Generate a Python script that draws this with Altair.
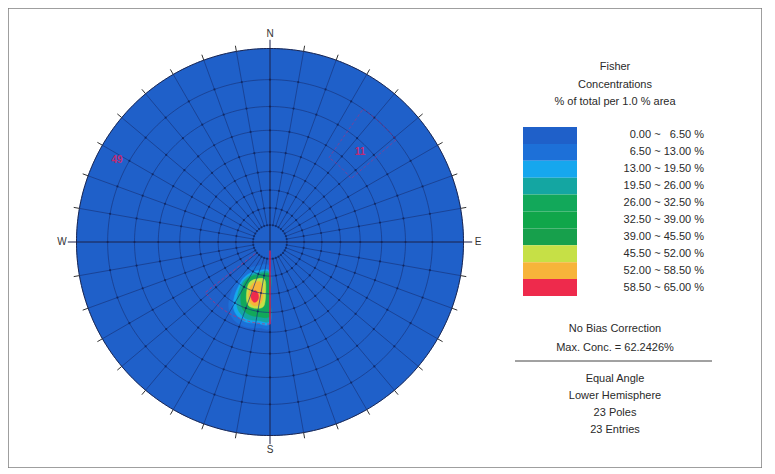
import altair as alt
import numpy as np
import pandas as pd

# ---------------- data ----------------
CONTOUR_EDGES = [0.0, 6.5, 13.0, 19.5, 26.0, 32.5, 39.0, 45.5, 52.0, 58.5, 65.0]
CONTOUR_COLORS = ["#1f60c9", "#1d70d8", "#16a7ee", "#14a6a2", "#12a85a",
                  "#10a64a", "#17a04c", "#c6e046", "#f7b43a", "#ee2a4c"]

# contour outlines (trend, plunge in degrees), one pair of lists per level
C2_TREND = [180, 208.4, 219.4, 221.0, 216.5, 211.5, 204.8, 195.8, 186.6, 180, 180]
C2_PLUNGE = [75.3, 73.9, 68.8, 60.9, 51.7, 45.8, 42.1, 40.9, 41.8, 42.6, 58]
C3_TREND = [180, 202.2, 212.6, 216.3, 215.4, 213.1, 209.6, 204.5, 197.4, 189.3, 180, 180]
C3_PLUNGE = [72.5, 71.8, 68.3, 63.8, 58.4, 52.7, 48.0, 44.9, 43.3, 43.9, 44.4, 58]
C4_TREND = [180, 201.4, 211.7, 214.3, 211.1, 207.3, 202.9, 196.6, 188.7, 180, 180]
C4_PLUNGE = [71.5, 70.7, 66.7, 61.2, 53.9, 49.2, 46.6, 44.9, 45.4, 45.8, 58]
C5_TREND = [180, 202.0, 210.9, 211.8, 209.5, 205.3, 201.4, 195.3, 188.9, 180, 180]
C5_PLUNGE = [70.6, 69.2, 65.3, 60.7, 56.1, 51.4, 48.6, 47.3, 47.3, 48.1, 58]
C8_TREND = [188.7, 201.9, 207.0, 205.1, 201.3, 197.2, 190.0, 185.2, 185.1]
C8_PLUNGE = [68.0, 66.5, 63.1, 58.3, 53.4, 51.4, 51.6, 53.8, 62.0]
C9_TREND = [194.1, 202.0, 203.3, 200.5, 195.7, 189.9, 187.4, 189.8]
C9_PLUNGE = [66.1, 64.1, 59.8, 55.5, 52.6, 53.4, 57.3, 63.6]
C10_TREND = [197.0, 199.6, 198.6, 195.4, 192.6, 191.6, 193.8]
C10_PLUNGE = [60.6, 58.5, 56.0, 54.4, 55.0, 57.4, 59.8]

# set windows (trend range, plunge range)
W1_TREND = [180, 232]
W1_PLUNGE = [44, 85]
W2_TREND = [35, 52]
W2_PLUNGE = [10, 34]

RED_LABELS = ["11", "49"]
RED_TREND = [44.9, 298.2]
RED_PLUNGE = [23.2, 6.2]

CARD_LABELS = ["N", "E", "S", "W"]
CARD_TREND = [0, 90, 180, 270]

GRID_PLUNGES = [10, 20, 30, 40, 50, 60, 70, 80]
SPOKE_TRENDS = list(range(0, 360, 10))

TITLE_LINES = ["Fisher", "Concentrations", "% of total per 1.0 % area"]
MID_LINES = ["No Bias Correction", "Max. Conc. = 62.2426%"]
BOTTOM_LINES = ["Equal Angle", "Lower Hemisphere", "23 Poles", "23 Entries"]

# ---------------- layout ----------------
W, H = 754, 460
CX, CY, R = 262, 234, 193.5
XDOM = [-CX / R, (W - CX) / R]
YDOM = [-(H - CY) / R, CY / R]
FONT = "Liberation Sans"
TXT = "#2a2a2a"


def xe(f):
    return alt.X(f"{f}:Q", scale=alt.Scale(domain=XDOM, nice=False, zero=False), axis=None)


def ye(f):
    return alt.Y(f"{f}:Q", scale=alt.Scale(domain=YDOM, nice=False, zero=False), axis=None)


def proj(trend, plunge):
    r = np.tan(np.radians(90 - np.asarray(plunge, dtype=float)) / 2)
    t = np.radians(np.asarray(trend, dtype=float))
    return r * np.sin(t), r * np.cos(t)


layers = []

# base disk
tt = np.arange(0, 361, 1.0)
disk = pd.DataFrame({"x": np.sin(np.radians(tt)), "y": np.cos(np.radians(tt)), "i": np.arange(len(tt))})
layers.append(alt.Chart(disk).mark_line(color=CONTOUR_COLORS[0], fill=CONTOUR_COLORS[0], strokeWidth=0.5)
              .encode(x=xe("x"), y=ye("y"), order="i:Q"))

# contour polygons
for tr, pl, col in [(C2_TREND, C2_PLUNGE, CONTOUR_COLORS[1]),
                    (C3_TREND, C3_PLUNGE, CONTOUR_COLORS[2]),
                    (C4_TREND, C4_PLUNGE, CONTOUR_COLORS[3]),
                    (C5_TREND, C5_PLUNGE, CONTOUR_COLORS[4]),
                    (C8_TREND, C8_PLUNGE, CONTOUR_COLORS[7]),
                    (C9_TREND, C9_PLUNGE, CONTOUR_COLORS[8]),
                    (C10_TREND, C10_PLUNGE, CONTOUR_COLORS[9])]:
    x, y = proj(tr, pl)
    df = pd.DataFrame({"x": x, "y": y, "i": np.arange(len(x))})
    layers.append(alt.Chart(df).mark_line(color=col, fill=col, strokeWidth=0.5, interpolate="cardinal-closed")
                  .encode(x=xe("x"), y=ye("y"), order="i:Q"))

# grid circles
rows = []
for p in GRID_PLUNGES:
    for t in np.arange(0, 361, 2.0):
        x, y = proj(t, p)
        rows.append({"p": p, "t": t, "x": float(x), "y": float(y)})
gc = pd.DataFrame(rows)
GRID = "#17367e"
layers.append(alt.Chart(gc).mark_line(color=GRID, strokeWidth=0.8, opacity=0.85)
              .encode(x=xe("x"), y=ye("y"), detail="p:N", order="t:Q"))

# spokes
r0 = np.tan(np.radians(5))
sp = pd.DataFrame({"t": [t for t in SPOKE_TRENDS if t % 90 != 0]})
sp["x1"] = r0 * np.sin(np.radians(sp.t)); sp["y1"] = r0 * np.cos(np.radians(sp.t))
sp["x2"] = np.sin(np.radians(sp.t)); sp["y2"] = np.cos(np.radians(sp.t))
layers.append(alt.Chart(sp).mark_rule(color=GRID, strokeWidth=0.8, opacity=0.85)
              .encode(x=xe("x1"), y=ye("y1"), x2="x2:Q", y2="y2:Q"))

# intersection dots
dots = []
for p in GRID_PLUNGES:
    for t in SPOKE_TRENDS:
        x, y = proj(t, p)
        dots.append({"x": float(x), "y": float(y)})
layers.append(alt.Chart(pd.DataFrame(dots)).mark_circle(size=5, color="#0c1a4a", opacity=0.6)
              .encode(x=xe("x"), y=ye("y")))

# outer circle
layers.append(alt.Chart(disk).mark_line(color="#1a2550", strokeWidth=1)
              .encode(x=xe("x"), y=ye("y"), order="i:Q"))

# ticks outside the primitive circle
tk = pd.DataFrame({"t": [t for t in SPOKE_TRENDS if t % 90 != 0]})
tk["x1"] = np.sin(np.radians(tk.t)); tk["y1"] = np.cos(np.radians(tk.t))
tk["x2"] = 1.03 * tk.x1; tk["y2"] = 1.03 * tk.y1
layers.append(alt.Chart(tk).mark_rule(color="#333333", strokeWidth=1)
              .encode(x=xe("x1"), y=ye("y1"), x2="x2:Q", y2="y2:Q"))

# cardinal axes through the centre
L = 1.045
ca = pd.DataFrame({"t": [0, 90]})
ca["x1"] = -L * np.sin(np.radians(ca.t)); ca["y1"] = -L * np.cos(np.radians(ca.t))
ca["x2"] = L * np.sin(np.radians(ca.t)); ca["y2"] = L * np.cos(np.radians(ca.t))
layers.append(alt.Chart(ca).mark_rule(color="#1c2148", strokeWidth=1)
              .encode(x=xe("x1"), y=ye("y1"), x2="x2:Q", y2="y2:Q"))

# set windows (red)
RED = "#dc2266"
x, y = proj([W1_TREND[0], W1_TREND[0]], [W1_PLUNGE[1], W1_PLUNGE[0]])
layers.append(alt.Chart(pd.DataFrame({"x": x, "y": y, "i": [0, 1]}))
              .mark_line(color=RED, strokeWidth=1.3).encode(x=xe("x"), y=ye("y"), order="i:Q"))
arc_t = list(np.arange(W1_TREND[0], W1_TREND[1] + 0.1, 2.0)) + [W1_TREND[1]] * 2
arc_p = [W1_PLUNGE[0]] * (len(arc_t) - 1) + [W1_PLUNGE[1] - 5]
x, y = proj(arc_t, arc_p)
layers.append(alt.Chart(pd.DataFrame({"x": x, "y": y, "i": np.arange(len(x))}))
              .mark_line(color=RED, strokeWidth=1, strokeDash=[3, 2], opacity=0.6)
              .encode(x=xe("x"), y=ye("y"), order="i:Q"))

w2_t = [W2_TREND[0], W2_TREND[0]] + list(np.arange(W2_TREND[0], W2_TREND[1] + 0.1, 2.0)) + \
       list(np.arange(W2_TREND[1], W2_TREND[0] - 0.1, -2.0))
w2_p = [W2_PLUNGE[1], W2_PLUNGE[0]] + [W2_PLUNGE[0]] * len(np.arange(W2_TREND[0], W2_TREND[1] + 0.1, 2.0)) + \
       [W2_PLUNGE[1]] * len(np.arange(W2_TREND[1], W2_TREND[0] - 0.1, -2.0))
x, y = proj(w2_t, w2_p)
layers.append(alt.Chart(pd.DataFrame({"x": x, "y": y, "i": np.arange(len(x))}))
              .mark_line(color=RED, strokeWidth=1, strokeDash=[3, 2], opacity=0.45)
              .encode(x=xe("x"), y=ye("y"), order="i:Q"))

x, y = proj(RED_TREND, RED_PLUNGE)
layers.append(alt.Chart(pd.DataFrame({"x": x, "y": y, "lab": RED_LABELS}))
              .mark_text(color=RED, fontSize=10, font=FONT, fontWeight="bold", opacity=0.85)
              .encode(x=xe("x"), y=ye("y"), text="lab:N"))

# cardinal labels
cl = pd.DataFrame({"lab": CARD_LABELS, "t": CARD_TREND})
cl["x"] = 1.075 * np.sin(np.radians(cl.t)); cl["y"] = 1.075 * np.cos(np.radians(cl.t))
layers.append(alt.Chart(cl).mark_text(fontSize=10, font=FONT, color="#333333")
              .encode(x=xe("x"), y=ye("y"), text="lab:N"))

# ---------------- legend ----------------
def fmt(lo, hi):
    s = f"{lo:.2f} ~ {hi:5.2f} %"
    return s.replace("~  ", "~ \u2007")


LABELS = [fmt(CONTOUR_EDGES[i], CONTOUR_EDGES[i + 1]) for i in range(len(CONTOUR_EDGES) - 1)]
leg = pd.DataFrame({"lab": LABELS})
band = alt.Scale(domain=LABELS, range=[119, 288], paddingInner=0, paddingOuter=0)
layers.append(alt.Chart(leg).mark_rect()
              .encode(y=alt.Y("lab:N", scale=band, axis=None), x=alt.value(515), x2=alt.value(569),
                      fill=alt.Fill("lab:N", scale=alt.Scale(domain=LABELS, range=CONTOUR_COLORS), legend=None)))
layers.append(alt.Chart(leg).mark_text(align="right", fontSize=11, font=FONT, color=TXT)
              .encode(y=alt.Y("lab:N", scale=band, axis=None), x=alt.value(696), text="lab:N"))

for lines, ys in [(TITLE_LINES, [59, 77, 94]), (MID_LINES, [321, 340]), (BOTTOM_LINES, [371, 388, 405, 422])]:
    for s, yy in zip(lines, ys):
        layers.append(alt.Chart(pd.DataFrame({"s": [s]})).mark_text(fontSize=11, font=FONT, color=TXT)
                      .encode(x=alt.value(607), y=alt.value(yy), text="s:N"))

layers.append(alt.Chart(pd.DataFrame({"a": [0]})).mark_rule(color="#444444", strokeWidth=1)
              .encode(x=alt.value(507), x2=alt.value(704), y=alt.value(353)))

chart = (alt.layer(*layers)
         .resolve_scale(x="independent", y="independent", fill="independent")
         .properties(width=W, height=H, padding=0, autosize=alt.AutoSizeParams(type="none"),
                     background="white")
         .configure_view(stroke="#808080", strokeWidth=1.5))

chart.save("out.html", embed_options={"renderer": "svg", "actions": False})
